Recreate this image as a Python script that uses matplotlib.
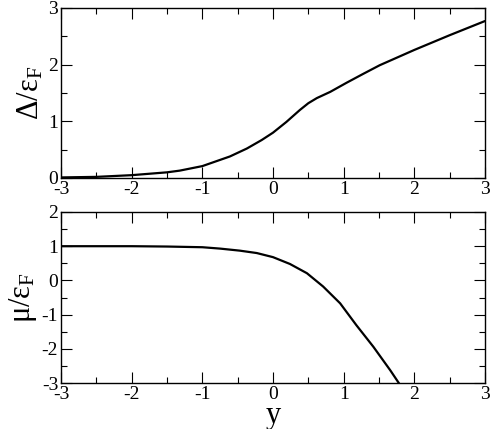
import numpy as np
import matplotlib
matplotlib.use('Agg')
import matplotlib.pyplot as plt

# ==================== data ====================
# top panel: gap Delta/eF vs y
y_gap = [-3.0, -2.5, -2.0, -1.5, -1.32, -1.0, -0.61, -0.37, -0.16, 0.0, 0.19,
         0.38, 0.50, 0.62, 0.81, 1.04, 1.28, 1.51, 2.0, 2.5, 3.0]
gap = [0.01, 0.02, 0.05, 0.10, 0.13, 0.21, 0.38, 0.52, 0.67, 0.80, 0.99,
       1.20, 1.32, 1.41, 1.52, 1.68, 1.84, 1.99, 2.26, 2.52, 2.77]

# bottom panel: chemical potential mu/eF vs y
y_mu = [-3.0, -2.0, -1.5, -1.0, -0.75, -0.47, -0.23, 0.0, 0.24, 0.48, 0.71,
        0.95, 1.18, 1.42, 1.66, 1.78]
mu = [1.0, 1.0, 0.99, 0.97, 0.93, 0.87, 0.80, 0.68, 0.48, 0.21, -0.18,
      -0.67, -1.31, -1.94, -2.63, -3.0]

plt.rcParams['font.family'] = ['Liberation Serif', 'DejaVu Serif']
plt.rcParams['mathtext.fontset'] = 'custom'
plt.rcParams['mathtext.rm'] = 'Liberation Serif'
plt.rcParams['mathtext.it'] = 'Liberation Serif:italic'
plt.rcParams['axes.unicode_minus'] = False

fig = plt.figure(figsize=(4.91, 4.29), dpi=100)
W, H = 491.0, 429.0
ax1 = fig.add_axes([61 / W, 1 - 178 / H, 424 / W, 170 / H])
ax2 = fig.add_axes([61 / W, 1 - 383 / H, 424 / W, 171 / H])

ax1.plot(y_gap, gap, color='black', lw=1.6)
ax2.plot(y_mu, mu, color='black', lw=1.6)

ax1.set_xlim(-3, 3)
ax1.set_ylim(0, 3)
ax2.set_xlim(-3, 3)
ax2.set_ylim(-3, 2)

for ax in (ax1, ax2):
    ax.set_xticks(np.arange(-3, 4, 1))
    ax.set_xticks(np.arange(-3, 3.01, 0.5), minor=True)
    ax.tick_params(which='both', direction='in', top=True, right=True, labelsize=14, pad=2)
    ax.tick_params(which='major', length=8, width=0.8)
    ax.tick_params(which='minor', length=4, width=0.8)
    for s in ax.spines.values():
        s.set_linewidth(1.0)

ax1.set_yticks(np.arange(0, 4, 1))
ax1.set_yticks(np.arange(0, 3.01, 0.5), minor=True)
ax2.set_yticks(np.arange(-3, 3, 1))
ax2.set_yticks(np.arange(-3, 2.01, 0.5), minor=True)

ax1.set_ylabel('Δ/ε$_{\\mathrm{F}}$', fontsize=22, labelpad=2)
ax2.set_ylabel('μ/ε$_{\\mathrm{F}}$', fontsize=22, labelpad=2)
ax2.set_xlabel('y', fontsize=22, labelpad=-1)

fig.savefig('out.png', dpi=100)
